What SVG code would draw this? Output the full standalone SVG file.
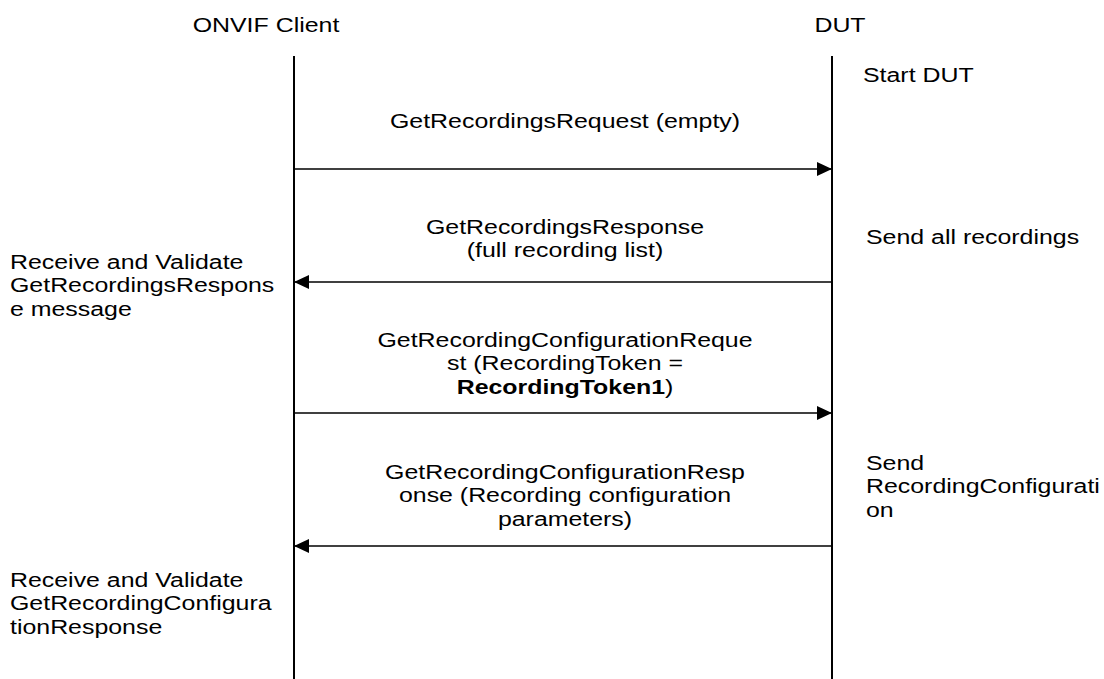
<svg xmlns="http://www.w3.org/2000/svg" width="1104" height="679" viewBox="0 0 1104 679">
<defs>
<style>
text{font-family:"Liberation Sans",Arial,sans-serif;font-size:20px;fill:#000}
.mid{text-anchor:middle}
.life{stroke:#000;stroke-width:2;fill:none}
.msg{stroke:#000;stroke-width:1.5;fill:none}
.b{font-weight:bold}
</style>
<marker id="ah" viewBox="0 0 15 14" refX="15" refY="7" markerWidth="15" markerHeight="14" markerUnits="userSpaceOnUse" orient="auto">
<path d="M0,0 L15,7 L0,14 Z" fill="#000"/>
</marker>
</defs>
<rect width="1104" height="679" fill="#fff"/>
<g id="client">
<text class="mid" transform="translate(266,32) scale(1.245,1)">ONVIF Client</text>
<line class="life" x1="294" y1="56" x2="294" y2="679"/>
</g>
<g id="dut">
<text class="mid" transform="translate(840,32) scale(1.245,1)">DUT</text>
<line class="life" x1="832" y1="56" x2="832" y2="679"/>
</g>
<g id="connectors">
<line class="msg" x1="294" y1="169" x2="832" y2="169" marker-end="url(#ah)"/>
<line class="msg" x1="832" y1="282" x2="294" y2="282" marker-end="url(#ah)"/>
<line class="msg" x1="294" y1="413" x2="832" y2="413" marker-end="url(#ah)"/>
<line class="msg" x1="832" y1="546" x2="294" y2="546" marker-end="url(#ah)"/>
</g>
<g id="labels">
<text class="mid" transform="translate(565,128) scale(1.245,1)">GetRecordingsRequest (empty)</text>
<text class="mid" transform="translate(565,234) scale(1.245,1)"><tspan x="0" y="0">GetRecordingsResponse</tspan><tspan x="0" y="23.3">(full recording list)</tspan></text>
<text class="mid" transform="translate(565,347) scale(1.245,1)"><tspan x="0" y="0">GetRecordingConfigurationReque</tspan><tspan x="0" y="23.3">st (RecordingToken =</tspan><tspan x="0" y="46.6"><tspan class="b">RecordingToken1</tspan>)</tspan></text>
<text class="mid" transform="translate(565,479) scale(1.245,1)"><tspan x="0" y="0">GetRecordingConfigurationResp</tspan><tspan x="0" y="23.3">onse (Recording configuration</tspan><tspan x="0" y="46.6">parameters)</tspan></text>
</g>
<g id="notes">
<text transform="translate(863,82) scale(1.245,1)">Start DUT</text>
<text transform="translate(866,244) scale(1.245,1)">Send all recordings</text>
<text transform="translate(866,470) scale(1.245,1)"><tspan x="0" y="0">Send</tspan><tspan x="0" y="23.3">RecordingConfigurati</tspan><tspan x="0" y="46.6">on</tspan></text>
<text transform="translate(10,269) scale(1.245,1)"><tspan x="0" y="0">Receive and Validate</tspan><tspan x="0" y="23.3">GetRecordingsRespons</tspan><tspan x="0" y="46.6">e message</tspan></text>
<text transform="translate(10,587) scale(1.245,1)"><tspan x="0" y="0">Receive and Validate</tspan><tspan x="0" y="23.3">GetRecordingConfigura</tspan><tspan x="0" y="46.6">tionResponse</tspan></text>
</g>
</svg>
